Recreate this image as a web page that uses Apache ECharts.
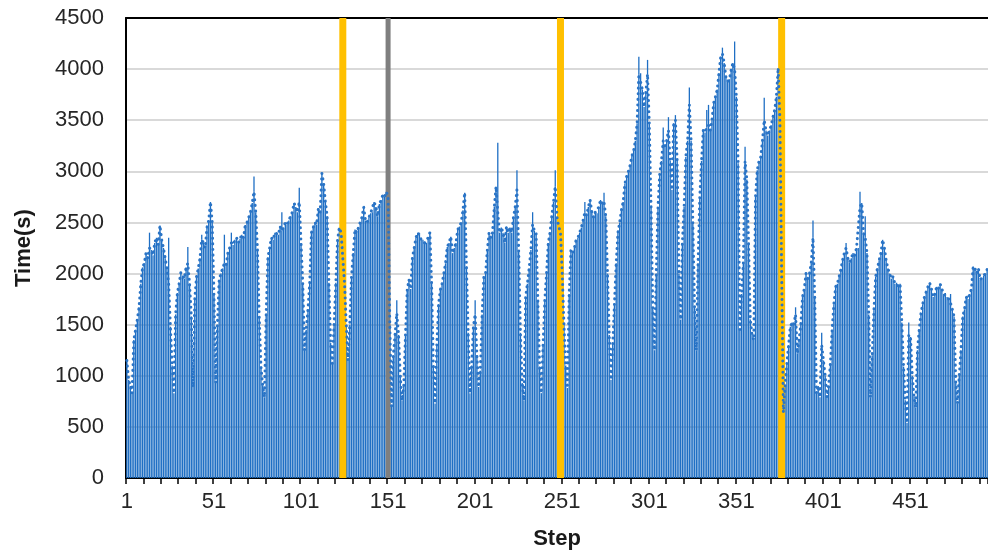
<!DOCTYPE html>
<html>
<head>
<meta charset="utf-8">
<script src="https://cdn.jsdelivr.net/npm/echarts@6/dist/echarts.min.js"></script>
<style>
  html, body { margin: 0; padding: 0; background: #ffffff; }
  #chart { width: 988px; height: 557px; }
</style>
</head>
<body>
<div id="chart"></div>
<script>
// Step numbers shown on the category axis
const stepCount = 495;
const steps = Array.from({ length: stepCount }, (_, i) => String(i + 1));

// Run time per step, seconds
const stepTime = [
  1150, 960, 900, 830, 1350, 1450, 1550, 1670, 1900, 2060,
  2100, 2200, 2150, 2250, 2230, 2180, 2300, 2350, 2280, 2470,
  2330, 2250, 2150, 2050, 1900, 1480, 1100, 830, 1600, 1810,
  1900, 2010, 1980, 1950, 2060, 2100, 1900, 1580, 890, 1750,
  1970, 2050, 2150, 2330, 2300, 2250, 2450, 2520, 2700, 2500,
  1800, 930, 1500, 1940, 2000, 2050, 2100, 2080, 2200, 2250,
  2300, 2280, 2330, 2350, 2300, 2340, 2380, 2350, 2475, 2500,
  2550, 2600, 2690, 2800, 2600, 2230, 1580, 1090, 900, 790,
  1610, 2160, 2250, 2350, 2330, 2400, 2400, 2380, 2460, 2420,
  2450, 2500, 2480, 2520, 2560, 2600, 2690, 2650, 2600, 2700,
  2300, 1910, 1250, 1450, 1650, 1910, 2400, 2450, 2500, 2480,
  2640, 2600, 2980, 2880, 2700, 2560, 1910, 1320, 1120, 1500,
  1910, 2330, 2450, 2400, 2400, 1900, 1500, 1150, 1500, 1970,
  2200, 2430, 2400, 2450, 2500, 2550, 2650, 2520, 2500, 2550,
  2590, 2600, 2700, 2650, 2560, 2680, 2720, 2770, 2750, 2800,
  2750, 1500, 700, 1200, 1400, 1610, 1400, 1000, 760, 900,
  1400, 1840, 1940, 1850, 2160, 2250, 2350, 2400, 2380, 2330,
  2330, 2300, 2300, 2350, 2400, 1900, 1090, 730, 1300, 1700,
  1840, 1900, 2000, 2100, 2260, 2300, 2360, 2200, 2250, 2300,
  2430, 2460, 2500, 2620, 2790, 2070, 1420, 830, 1100, 1480,
  1600, 1200, 890, 1050, 1600, 1970, 2000, 2230, 2400, 2350,
  2400, 2650, 2850, 2600, 2400, 2450, 2400, 2300, 2460, 2400,
  2450, 2400, 2550, 2650, 2820, 2230, 1420, 930, 760, 1770,
  1900, 2050, 2230, 2480, 2420, 2400, 1740, 1090, 830, 1300,
  1740, 2000, 2300, 2400, 2560, 2700, 2850, 2550, 2460, 2400,
  2000, 1500, 1100, 880, 1800, 2230, 2200, 2250, 2330, 2350,
  2400, 2450, 2520, 2600, 2570, 2650, 2720, 2600, 2550, 2600,
  2590, 2650, 2720, 2680, 2700, 2560, 2000, 1400, 960, 1300,
  1710, 2100, 2400, 2500, 2620, 2700, 2880, 2950, 3000, 3060,
  3150, 3200, 3300, 3470, 3950, 3960, 3800, 3630, 3770, 3950,
  3470, 2650, 1670, 1250, 2000, 2650, 2980, 3100, 3300, 3250,
  3300, 3400, 3100, 2820, 3470, 3500, 3100, 2000, 1550, 2300,
  2650, 3140, 3300, 3650, 3300, 2500, 1670, 1250, 2100, 2750,
  3100, 3400, 3380, 3430, 3450, 3400, 3500, 3670, 3730, 3800,
  3960, 4120, 4150, 4060, 3920, 3880, 3900, 3990, 4060, 4000,
  3730, 3080, 1450, 1800, 2100, 3100, 2920, 2300, 1550, 1400,
  1350, 2750, 3010, 3100, 3140, 3300, 3500, 3400, 3350, 3400,
  3450, 3530, 3600, 3730, 4010, 3500, 2000, 640, 900, 1120,
  1300, 1480, 1520, 1500, 1600, 1220, 1350, 1500, 1770, 1850,
  2000, 1950, 2000, 2100, 2350, 1770, 830, 900, 790, 1300,
  1150, 1000, 790, 900, 1120, 1450, 1700, 1870, 1900, 1970,
  2040, 2130, 2200, 2250, 2150, 2110, 2150, 2200, 2180, 2250,
  2250, 2650, 2690, 2400, 2350, 2200, 1600, 790, 1200, 1640,
  1970, 2050, 2130, 2200, 2330, 2250, 2130, 2050, 2000, 1950,
  1970, 1900, 1910, 1880, 1900, 1520, 1090, 760, 540, 1400,
  1380, 1000, 800, 690, 1250, 1450, 1610, 1700, 1770, 1820,
  1870, 1910, 1850, 1770, 1800, 1870, 1850, 1900, 1850, 1800,
  1810, 1770, 1750, 1710, 1650, 1580, 930, 730, 1000, 1250,
  1580, 1650, 1770, 1750, 1800, 1850, 2070, 2050, 2000, 2050,
  1940, 1960, 1980, 2000, 2040
];

// Steps whose upper whisker reaches well above the bar, and where it ends
const spikeSteps = [14, 25, 36, 44, 57, 61, 74, 90, 100, 156, 201, 214, 225, 234, 247, 264, 275,
  295, 300, 309, 312, 316, 324, 334, 335, 343, 350, 356, 367, 385, 395, 400, 414, 422, 425, 450, 474];
const spikeTops = [2400, 2350, 2260, 2380, 2380, 2400, 2950, 2600, 2840, 1740, 1740, 3280, 3010, 2600, 3010, 2700, 2790,
  4120, 4090, 3430, 3530, 3550, 3820, 3600, 3650, 4210, 4270, 3240, 3720, 1670, 2520, 1420, 2300, 2800, 2560, 1520, 1800];

// Marked steps
const goldSteps = [125, 250, 377];
const graySteps = [151];

// Value axis
const yMin = 0;
const yMax = 4500;
const yStep = 500;

const BLUE = '#1f6fc4';
const FONT = '"Liberation Sans", Arial, sans-serif';

function markerItem(width, color) {
  return function (params, api) {
    const base = api.coord([api.value(0), 0]);
    const top = api.coord([api.value(0), api.value(1)]);
    return {
      type: 'rect',
      shape: { x: base[0] - width / 2, y: top[1], width: width, height: base[1] - top[1] },
      style: { fill: color }
    };
  };
}

const chart = echarts.init(document.getElementById('chart'), null, { renderer: 'canvas' });

chart.setOption({
  animation: false,
  backgroundColor: '#ffffff',
  grid: { left: 126, right: 0, top: 18, bottom: 79 },
  xAxis: [{
    type: 'category',
    data: steps,
    boundaryGap: true,
    name: 'Step',
    nameLocation: 'middle',
    nameGap: 50,
    nameTextStyle: { fontFamily: FONT, fontSize: 22, fontWeight: 'bold', color: '#1a1a1a' },
    axisLine: { show: true, lineStyle: { color: '#000000', width: 2 } },
    axisTick: { show: true, interval: 9, length: 6, lineStyle: { color: '#000000', width: 1.5 } },
    axisLabel: { interval: 49, fontFamily: FONT, fontSize: 22, color: '#262626', margin: 13 },
    splitLine: { show: false }
  }, {
    type: 'category',
    data: steps,
    position: 'top',
    axisLine: { show: true, lineStyle: { color: '#000000', width: 2 } },
    axisTick: { show: false },
    axisLabel: { show: false }
  }],
  yAxis: {
    type: 'value',
    min: yMin,
    max: yMax,
    interval: yStep,
    name: 'Time(s)',
    nameLocation: 'middle',
    nameGap: 91,
    nameRotate: 90,
    nameTextStyle: { fontFamily: FONT, fontSize: 22, fontWeight: 'bold', color: '#1a1a1a' },
    axisLine: { show: true, lineStyle: { color: '#000000', width: 2 } },
    axisTick: { show: false },
    axisLabel: { fontFamily: FONT, fontSize: 22, color: '#262626', margin: 22, formatter: v => String(v) },
    splitLine: { show: true, lineStyle: { color: '#d9d9d9', width: 2 } }
  },
  series: [
    {
      name: 'Time',
      type: 'bar',
      data: stepTime,
      barCategoryGap: '22%',
      itemStyle: { color: BLUE },
      z: 2
    },
    {
      name: 'Marked',
      type: 'custom',
      renderItem: markerItem(7, '#ffc000'),
      data: goldSteps.map(s => [s - 1, yMax]),
      encode: { x: 0, y: 1 },
      z: 3
    },
    {
      name: 'Marked (gray)',
      type: 'custom',
      renderItem: markerItem(5, '#7f7f7f'),
      data: graySteps.map(s => [s - 1, yMax]),
      encode: { x: 0, y: 1 },
      z: 3
    },
    {
      name: 'Trend',
      type: 'line',
      data: stepTime,
      symbol: 'none',
      lineStyle: { color: '#2a74c6', width: 3, type: [0.1, 5.5], cap: 'round', join: 'round' },
      z: 4
    },
    {
      name: 'Whisker',
      type: 'custom',
      renderItem: function (params, api) {
        const lo = api.coord([api.value(0), api.value(1)]);
        const hi = api.coord([api.value(0), api.value(2)]);
        return {
          type: 'line',
          shape: { x1: lo[0], y1: lo[1], x2: hi[0], y2: hi[1] },
          style: { stroke: BLUE, lineWidth: 1.3 }
        };
      },
      data: spikeSteps.map((s, i) => [s - 1, stepTime[s - 1], spikeTops[i]]),
      encode: { x: 0, y: [1, 2] },
      z: 4
    }
  ]
});
</script>
</body>
</html>
